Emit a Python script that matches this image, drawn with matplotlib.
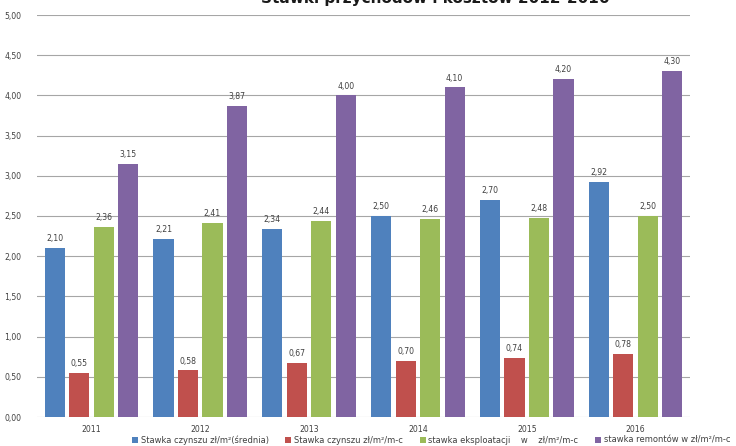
import matplotlib
matplotlib.use("Agg")
import matplotlib.pyplot as plt
import numpy as np

years = ["2011", "2012", "2013", "2014", "2015", "2016"]
series_names = [
    "Stawka czynszu zł/m²(średnia)",
    "Stawka czynszu zł/m²/m-c",
    "stawka eksploatacji    w    zł/m²/m-c",
    "stawka remontów w zł/m²/m-c",
]
czynsz_sredni = [2.10, 2.21, 2.34, 2.50, 2.70, 2.92]
czynsz_mc = [0.55, 0.58, 0.67, 0.70, 0.74, 0.78]
eksploatacja = [2.36, 2.41, 2.44, 2.46, 2.48, 2.50]
remonty = [3.15, 3.87, 4.00, 4.10, 4.20, 4.30]
yticks = [0.0, 0.5, 1.0, 1.5, 2.0, 2.5, 3.0, 3.5, 4.0, 4.5, 5.0]

colors = ["#4F81BD", "#C0504D", "#9BBB59", "#8064A2"]
text_color = "#404040"

fig = plt.figure(figsize=(7.36, 4.46), dpi=100)
ax = fig.add_axes([37 / 736, 1 - 417 / 446, (690 - 37) / 736, (417 - 15) / 446])

x = np.arange(len(years))
step = 0.225
width = 0.185
all_series = [czynsz_sredni, czynsz_mc, eksploatacja, remonty]
for i, (vals, col, name) in enumerate(zip(all_series, colors, series_names)):
    pos = x + (i - 1.5) * step
    bars = ax.bar(pos, vals, width=width, color=col, label=name, zorder=3)
    for b, v in zip(bars, vals):
        ax.text(b.get_x() + b.get_width() / 2, v + 0.06,
                f"{v:.2f}".replace(".", ","), ha="center", va="bottom",
                fontsize=5.6, color=text_color)

ax.set_xlim(-0.5, len(years) - 0.5)
ax.set_ylim(0, 5.0)
ax.set_yticks(yticks)
ax.set_yticklabels([f"{t:.2f}".replace(".", ",") for t in yticks],
                   fontsize=5.6, color=text_color)
ax.set_xticks(x)
ax.set_xticklabels(years, fontsize=5.6, color=text_color)
ax.tick_params(axis="x", length=0, pad=6)
ax.tick_params(axis="y", length=0, pad=11)
ax.grid(axis="y", color="#A6A6A6", linewidth=0.8, zorder=0)
for s in ax.spines.values():
    s.set_visible(False)

fig.text(435 / 736, 1 - 3 / 446, "Stawki przychodów i kosztów 2012-2016",
         ha="center", va="baseline", fontsize=11, fontweight="bold",
         color="#1a1a1a")

leg = fig.legend(loc="center", bbox_to_anchor=(431 / 736, 1 - 440 / 446),
                 ncol=4, frameon=False, fontsize=6, handlelength=0.75,
                 handleheight=0.75, handletextpad=0.3, columnspacing=2.0)
for t in leg.get_texts():
    t.set_color(text_color)

fig.savefig("out.png", dpi=100)
